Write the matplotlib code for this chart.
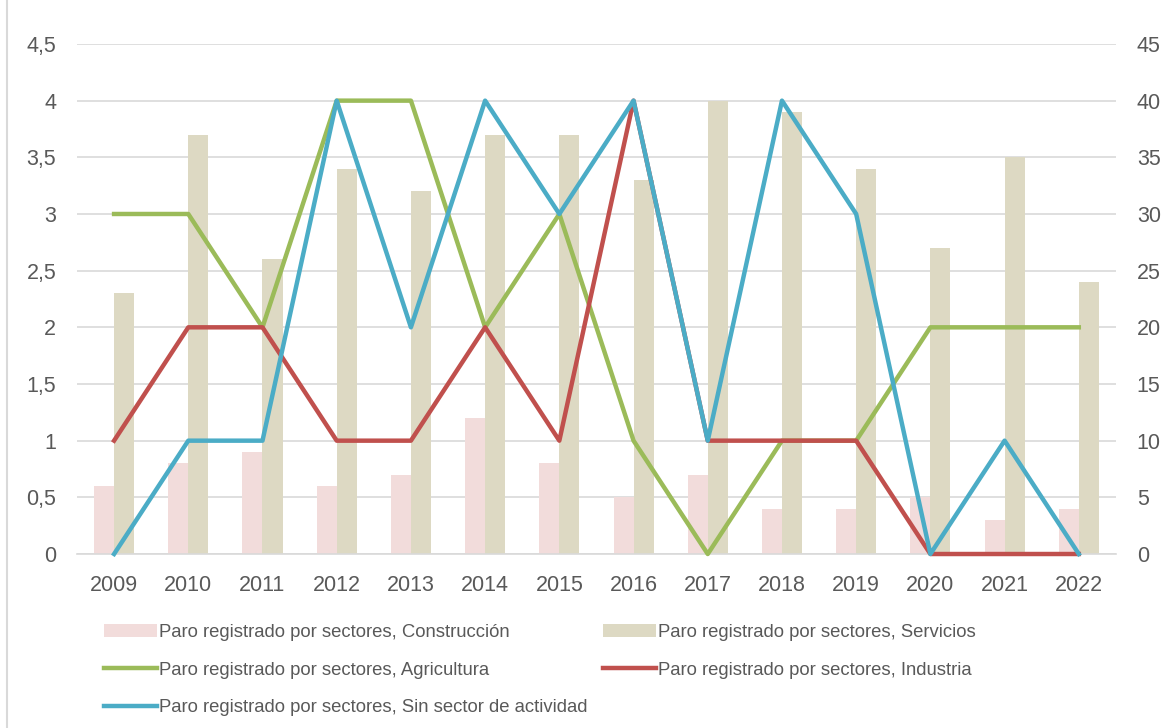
import numpy as np
import matplotlib.pyplot as plt
from matplotlib.lines import Line2D
from matplotlib.ticker import FuncFormatter

# Datos de paro registrado por sectores
anios = [2009, 2010, 2011, 2012, 2013, 2014, 2015, 2016, 2017, 2018, 2019, 2020, 2021, 2022]
construccion = [6, 8, 9, 6, 7, 12, 8, 5, 7, 4, 4, 5, 3, 4]
servicios = [23, 37, 26, 34, 32, 37, 37, 33, 40, 39, 34, 27, 35, 24]
agricultura = [3, 3, 2, 4, 4, 2, 3, 1, 0, 1, 1, 2, 2, 2]
industria = [1, 2, 2, 1, 1, 2, 1, 4, 1, 1, 1, 0, 0, 0]
sin_sector = [0, 1, 1, 4, 2, 4, 3, 4, 1, 4, 3, 0, 1, 0]

plt.rcParams['font.family'] = ['Liberation Sans', 'DejaVu Sans']

fig = plt.figure(figsize=(11.68, 7.28), dpi=100)

# borde izquierdo del area del grafico
fig.add_artist(Line2D([7 / 1168, 7 / 1168], [0, 1], color='#D9D9D9', lw=1.5))

ax = fig.add_axes([0.0659, 0.239, 0.8895, 0.7006])
ax2 = ax.twinx()

x = np.arange(len(anios))
w = 0.27

# Barras en el eje derecho
ax2.bar(x - w / 2, construccion, w, color='#F2DCDB', label='Paro registrado por sectores, Construcción', zorder=1)
ax2.bar(x + w / 2, servicios, w, color='#DDD9C3', label='Paro registrado por sectores, Servicios', zorder=1)
ax2.set_ylim(0, 45)
ax2.set_yticks(np.arange(0, 46, 5))

# Lineas en el eje izquierdo, dibujadas encima de las barras y del eje
ax.set_zorder(ax2.get_zorder() + 1)
ax.patch.set_visible(False)
l1, = ax.plot(x, agricultura, color='#9BBB59', lw=3.2, clip_on=False, zorder=3,
              label='Paro registrado por sectores, Agricultura')
l2, = ax.plot(x, industria, color='#C0504D', lw=3.2, clip_on=False, zorder=3,
              label='Paro registrado por sectores, Industria')
l3, = ax.plot(x, sin_sector, color='#4BACC6', lw=3.2, clip_on=False, zorder=3,
              label='Paro registrado por sectores, Sin sector de actividad')
ax.set_ylim(0, 4.5)
ax.set_yticks(np.arange(0, 4.51, 0.5))
ax.yaxis.set_major_formatter(FuncFormatter(lambda v, p: ('%g' % v).replace('.', ',')))
ax.set_xlim(-0.5, len(anios) - 0.5)
ax.set_xticks(x)
ax.set_xticklabels(anios)

# Rejilla detras de todo
ax2.set_axisbelow(True)
ax2.grid(axis='y', color='#D9D9D9', lw=1.2)

for a in (ax, ax2):
    for s in a.spines.values():
        s.set_visible(False)
    a.tick_params(length=0, labelsize=15.5, labelcolor='#595959')
ax.spines['bottom'].set_visible(True)
ax.spines['bottom'].set_color('#D9D9D9')
ax.spines['bottom'].set_linewidth(1.2)
ax.tick_params(axis='x', pad=15)
ax.tick_params(axis='y', pad=15)
ax2.tick_params(axis='y', pad=15)

h_bars, l_bars = ax2.get_legend_handles_labels()
handles = [h_bars[0], l1, l3, h_bars[1], l2]
labels = [h.get_label() for h in handles]
leg = fig.legend(handles, labels, ncol=2, loc='upper left', bbox_to_anchor=(0.089, 0.143),
                 frameon=False, prop={'size': 13.3},
                 handlelength=2.85, handletextpad=0.15, columnspacing=0.82, labelspacing=1.12,
                 borderaxespad=0, borderpad=0)
for t in leg.get_texts():
    t.set_color('#595959')

fig.savefig('out.png', dpi=100, facecolor='white')
